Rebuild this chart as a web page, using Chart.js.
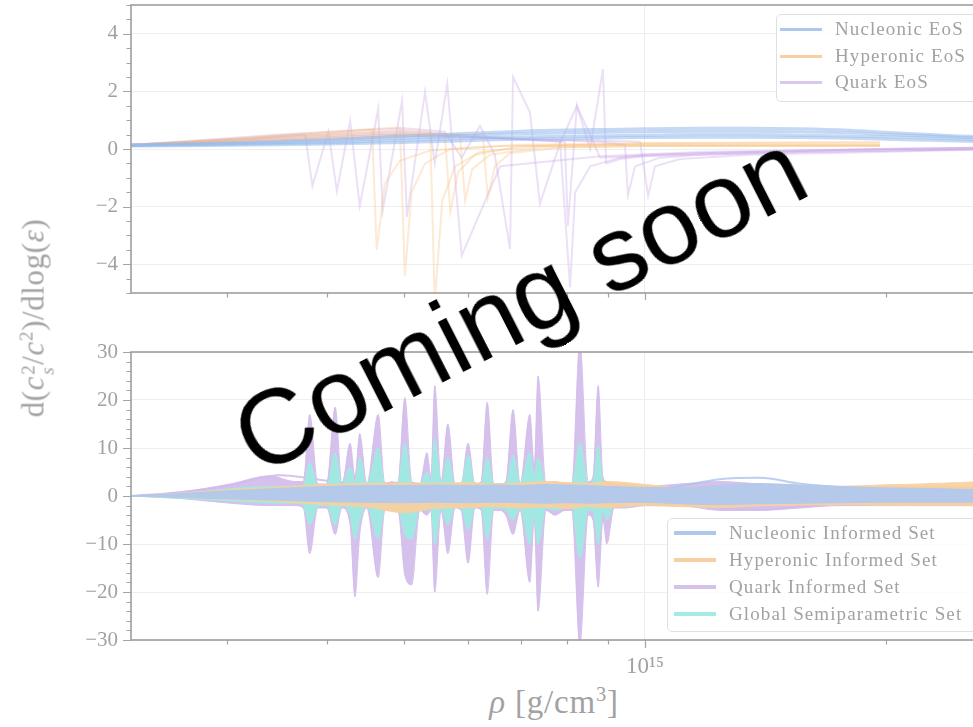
<!DOCTYPE html>
<html>
<head>
<meta charset="utf-8">
<script src="https://cdn.jsdelivr.net/npm/chart.js@4.4.1/dist/chart.umd.min.js"></script>
<style>
  html, body { margin:0; padding:0; background:#fff; overflow:hidden; }
  #wrap { position:relative; width:973px; height:727px; overflow:hidden; background:#fff; }
  canvas { position:absolute; left:0; }
  #cTop { top:-10px; }
  #cBot { top:332px; }
  .serif { font-family:"Liberation Serif","Times New Roman",serif; color:#a2a2a2; }
  .lgbox { position:absolute; border:1px solid #e0e0e0; border-radius:5px; background:rgba(255,255,255,0.8); }
  .lgsw { position:absolute; width:42px; }
  .lgtx { position:absolute; font-size:19px; letter-spacing:1.1px; line-height:1; white-space:nowrap; transform:translateY(-52%); }
  #ylab { position:absolute; left:37px; top:318px; transform:translate(-50%,-50%) rotate(-90deg);
          font-size:31px; letter-spacing:0.6px; line-height:1; white-space:nowrap; }
  #ylab .ms { display:inline-flex; flex-direction:column; font-size:0.62em; line-height:0.95; vertical-align:0.45em; margin-left:1px; }
  #ylab sup, #xlab sup { font-size:0.62em; vertical-align:0.55em; line-height:0; }
  #xlab { position:absolute; left:554px; top:702px; transform:translate(-50%,-50%);
          font-size:33px; letter-spacing:0.8px; line-height:1; white-space:nowrap; }
  #soon { position:absolute; left:519px; top:302px; transform:translate(-50%,-50%) rotate(-27deg);
          font-family:"Liberation Sans",Arial,sans-serif; font-size:106px; line-height:1; color:#000;
          white-space:nowrap; z-index:10; }
</style>
</head>
<body>
<div id="wrap">
  <canvas id="cTop" width="1010" height="310"></canvas>
  <canvas id="cBot" width="1010" height="348"></canvas>
  <div id="ylab" class="serif">d(<i>c</i><span class="ms"><span>2</span><span><i>s</i></span></span>/<i>c</i><sup>2</sup>)/dlog(<i>ε</i>)</div>
  <div id="xlab" class="serif"><i>ρ</i> [g/cm<sup>3</sup>]</div>
  <div id="soon">Coming soon</div>
</div>
<script>
// ---------------- DATA (densities in units of 1e14 g/cm^3) ----------------
const topSeriesNames = ['Nucleonic EoS', 'Hyperonic EoS', 'Quark EoS'];
const bottomSeriesNames = ['Nucleonic Informed Set', 'Hyperonic Informed Set', 'Quark Informed Set', 'Global Semiparametric Set'];

const xMajorTicks = [1e15];
const xTickLabelText = ['10\u00B9\u2075'];
const xMinorTicks = [3e14, 4e14, 5e14, 6e14, 7e14, 8e14, 9e14, 2e15];
const topYTicks = [-4, -2, 0, 2, 4];
const bottomYTicks = [-30, -20, -10, 0, 10, 20, 30];

// top panel: nucleonic EoS curves
const rhoTop = [2.28, 2.62, 3.03, 3.50, 4.00, 4.47, 5.00, 5.54, 6.00, 6.49, 7.00, 8.00, 9.00, 10.0, 11.7, 13.5, 15.6, 18.0, 20.0, 22.7, 25.0, 27.8];
const nucA = [0.15, 0.18, 0.22, 0.27, 0.32, 0.38, 0.45, 0.50, 0.55, 0.58, 0.62, 0.66, 0.68, 0.70, 0.72, 0.72, 0.70, 0.65, 0.58, 0.50, 0.45, 0.40];
const nucB = [0.14, 0.16, 0.19, 0.23, 0.28, 0.33, 0.38, 0.42, 0.46, 0.50, 0.53, 0.56, 0.58, 0.60, 0.62, 0.62, 0.60, 0.56, 0.50, 0.45, 0.40, 0.36];
const nucC = [0.12, 0.14, 0.16, 0.19, 0.22, 0.26, 0.30, 0.34, 0.37, 0.40, 0.42, 0.44, 0.46, 0.48, 0.50, 0.50, 0.48, 0.45, 0.42, 0.38, 0.34, 0.30];
const nucD = [0.10, 0.11, 0.13, 0.15, 0.17, 0.20, 0.23, 0.26, 0.29, 0.32, 0.34, 0.36, 0.38, 0.40, 0.41, 0.41, 0.40, 0.37, 0.34, 0.30, 0.27, 0.24];

// top panel: hyperonic EoS curves
const hyp1Rho = [2.28, 3.03, 4.00, 4.56, 4.62, 4.73, 4.94, 5.39, 6.59, 10.0, 19.67];
const hyp1    = [0.15, 0.32, 0.55, 0.68, -3.5, -1.2, -0.4, -0.05, 0.10, 0.15, 0.15];
const hyp2Rho = [2.28, 3.03, 4.00, 4.94, 5.01, 5.11, 5.31, 5.71, 6.98, 10.0, 19.67];
const hyp2    = [0.15, 0.35, 0.60, 0.75, -4.4, -1.5, -0.5, 0.0, 0.15, 0.20, 0.20];
const hyp3Rho = [2.28, 3.03, 4.00, 5.00, 5.39, 5.46, 5.58, 5.79, 6.22, 7.39, 10.0, 19.67];
const hyp3    = [0.15, 0.30, 0.50, 0.65, 0.60, -5.3, -1.8, -0.6, -0.1, 0.10, 0.20, 0.25];
const hyp4Rho = [2.28, 3.03, 4.00, 5.00, 5.62, 5.71, 5.84, 6.13, 6.98, 10.0, 19.67];
const hyp4    = [0.15, 0.28, 0.45, 0.55, 0.55, -2.2, -0.8, -0.2, 0.10, 0.15, 0.15];
const hyp5Rho = [2.28, 3.03, 4.00, 5.00, 5.87, 5.96, 6.08, 6.40, 7.39, 10.0, 19.67];
const hyp5    = [0.12, 0.25, 0.40, 0.50, 0.50, -1.8, -0.7, -0.2, 0.05, 0.10, 0.10];
const hyp6Rho = [2.28, 3.03, 4.00, 5.00, 6.27, 6.36, 6.49, 6.78, 7.83, 10.0, 19.67];
const hyp6    = [0.12, 0.22, 0.35, 0.45, 0.50, -1.7, -0.6, -0.15, 0.05, 0.10, 0.10];

// top panel: quark EoS curves
const qrk1Rho = [2.28, 3.21, 3.76, 3.84, 4.02, 4.12, 4.28, 4.40, 4.64, 4.70, 4.97, 5.04, 5.31, 5.46, 5.66, 5.90, 6.59, 8.79, 11.72, 19.67, 27.78];
const qrk1    = [0.15, 0.35, 0.50, -1.28, 0.60, -1.46, 0.97, -1.98, 1.39, -2.15, 1.67, -2.36, 1.98, -0.50, 2.26, -3.70, -0.60, -0.25, -0.10, 0.00, 0.05];
const qrk2Rho = [2.28, 3.50, 5.00, 5.62, 5.90, 6.22, 6.49, 6.78, 6.84, 7.18, 7.39, 7.83, 8.22, 8.79, 11.72, 19.67, 27.78];
const qrk2    = [0.14, 0.50, 0.72, 0.60, -0.30, 0.80, -0.20, -3.47, 2.50, 1.28, -1.90, 0.20, 1.50, -0.30, -0.15, 0.00, 0.05];
const qrk3Rho = [2.28, 3.50, 5.00, 7.39, 7.94, 8.01, 8.22, 8.54, 8.86, 8.94, 9.31, 10.0, 15.62, 27.78];
const qrk3    = [0.13, 0.45, 0.62, 0.30, 0.25, -2.67, 1.50, 0.00, 2.78, -0.50, -0.35, -0.25, -0.10, 0.00];
const qrk4Rho = [2.28, 3.50, 5.00, 7.83, 8.06, 8.18, 8.54, 9.31, 10.0, 15.62, 27.78];
const qrk4    = [0.12, 0.40, 0.55, 0.25, -4.80, -1.50, -0.60, -0.30, -0.20, -0.05, 0.05];
const qrk5Rho = [2.28, 3.50, 5.00, 8.79, 9.44, 9.52, 9.72, 10.44, 11.72, 15.62, 27.78];
const qrk5    = [0.12, 0.35, 0.50, 0.25, 0.15, -1.60, -0.60, -0.30, -0.20, -0.10, 0.00];
const qrk6Rho = [2.28, 3.50, 5.00, 9.86, 10.09, 10.29, 11.06, 13.53, 19.67, 27.78];
const qrk6    = [0.10, 0.30, 0.45, 0.25, -1.63, -0.60, -0.35, -0.20, -0.10, 0.00];

// bottom panel: smooth bands (upper / lower envelopes) and single curves
const rhoBand  = [2.28, 2.62, 3.03, 3.50, 4.00, 4.50, 5.00, 5.50, 6.00, 6.50, 7.00, 7.50, 8.00, 8.50, 9.00, 10.0, 11.0, 12.4, 13.9, 15.6, 17.5, 19.7, 22.1, 24.8, 27.8];
const nucUpper = [0, 0.5, 1.1, 1.6, 2.0, 2.2, 2.2, 2.3, 2.2, 2.3, 2.2, 2.4, 2.3, 2.2, 2.0, 1.8, 1.7, 2.2, 2.6, 2.3, 2.0, 1.7, 1.6, 1.4, 1.3];
const nucLower = [0, -0.3, -0.6, -0.9, -1.2, -1.3, -1.4, -1.3, -1.4, -1.3, -1.4, -1.5, -1.4, -1.5, -1.4, -1.3, -1.6, -1.8, -1.6, -1.5, -1.4, -1.3, -1.3, -1.3, -1.2];
const hypUpper = [0, 0.6, 1.3, 1.9, 2.4, 2.6, 2.7, 2.6, 2.8, 2.5, 2.7, 3.0, 2.8, 2.6, 3.0, 2.4, 1.8, 2.0, 2.4, 2.2, 2.0, 2.3, 2.5, 2.8, 3.2];
const hypLower = [0, -0.3, -0.7, -1.2, -1.8, -2.3, -3.5, -2.5, -2.4, -2.2, -2.5, -2.3, -2.6, -2.2, -2.4, -2.0, -2.2, -2.4, -2.0, -1.9, -1.8, -1.9, -2.0, -2.0, -2.1];
const nucLine  = [0, 0.3, 0.8, 1.2, 1.6, 1.8, 1.5, 1.9, 1.6, 2.0, 1.7, 1.8, 1.5, 1.9, 1.7, 1.2, 2.0, 3.5, 3.8, 2.6, 1.8, 1.2, 1.0, 0.9, 0.8];
const qrkLine  = [0, 0.8, 2.2, 4.3, 3.2, 2.5, 2.8, 2.2, 2.6, 2.4, 2.2, 2.8, 2.5, 2.6, 1.8, 0.8, -1.0, -2.5, -2.8, -2.2, -1.5, -0.8, 0.2, 0.8, 1.5];

// bottom panel: oscillating sets (upper / lower envelopes)
const rhoOsc = [2.28, 2.62, 3.03, 3.40, 3.65, 3.74, 3.81, 3.90, 4.00, 4.10,
                4.18, 4.28, 4.34, 4.40, 4.49, 4.64, 4.73, 4.83, 4.91, 5.01,
                5.11, 5.23, 5.34, 5.40, 5.46, 5.56, 5.67, 5.79, 5.89, 6.01,
                6.13, 6.24, 6.35, 6.47, 6.59, 6.70, 6.84, 6.98, 7.18, 7.27,
                7.35, 7.52, 7.72, 7.94, 8.10, 8.29, 8.49, 8.61, 8.74, 8.86,
                8.96, 9.15, 9.44, 10.0, 11.06, 12.41, 13.92, 15.62, 17.53, 19.67,
                22.07, 24.76, 27.78];
const qrkUpper = [0, 0.8, 2.5, 4.2, 3.0, 3.0, 17, 2.5, 2.5, 18.5,
                  2.5, 11, 4, 13, 2.5, 17, 2.5, 3, 2.5, 20.5,
                  3, 2.5, 9, 4, 23, 3, 15, 2.5, 2.5, 11,
                  2.5, 3, 19.5, 2.5, 2.5, 3, 18, 2.5, 17, 6,
                  25, 2.5, 3, 2.5, 2.5, 32, 3, 4, 23, 4,
                  3, 2.5, 2.5, 2, 2.5, 3, 2.5, 2, 2, 2,
                  2, 2, 2];
const qrkLower = [0, -0.5, -1.5, -2, -2, -2.5, -12, -2.5, -2.5, -8,
                  -2.5, -6, -21, -8, -2.5, -17, -3, -3, -3, -16.5,
                  -18.5, -3, -4, -3, -20, -3, -12, -2.5, -3, -14,
                  -2.5, -3, -20.5, -3, -3, -4, -8, -3, -18, -5,
                  -24, -3, -4, -3, -3, -31, -4, -5, -19, -5,
                  -10, -2.5, -2.5, -2, -2, -3, -3, -2.5, -2, -2,
                  -2, -2, -2];
const gloUpper = [0, 0.5, 1.5, 2, 2, 2.2, 7, 2.2, 2.2, 9,
                  2.2, 6, 3, 8, 2.2, 10, 2.5, 2.5, 2.5, 11,
                  2.5, 2.5, 5, 3, 12, 2.5, 8, 2.2, 2.5, 8.5,
                  2.2, 2.5, 8, 2.5, 2.5, 2.5, 8.5, 2.5, 9, 4,
                  8, 2.5, 2.5, 2.5, 2.5, 11, 2.5, 3, 10.5, 3,
                  2.5, 2, 2, 1.5, 1.5, 2, 1.5, 1.5, 1.5, 1.5,
                  1.5, 1.5, 1.5];
const gloLower = [0, -0.5, -1, -1.5, -1.5, -2, -6, -2.2, -2, -6,
                  -2, -4, -9, -5, -2, -9, -2.5, -2.5, -2.5, -8,
                  -9, -2.5, -3, -2.5, -10, -2.5, -6, -2.2, -2.5, -7,
                  -2.2, -2.5, -9, -2.5, -2.5, -3, -5, -2.5, -10, -4,
                  -10, -2.5, -3, -2.5, -2.5, -13, -3, -3, -10, -3,
                  -5, -2, -2, -1.5, -1.5, -1.5, -1.5, -1.5, -1.5, -1.5,
                  -1.5, -1.5, -1.5];

// ---------------- RENDERING ----------------
const X_MIN = 2.278e14, X_MAX = 2.859e15;
const serifFont = "'Liberation Serif','Times New Roman',serif";
const labelColor = '#a2a2a2';
const pts = (rho, vals) => rho.map((r, i) => ({ x: r * 1e14, y: vals[i] }));

const C = {
  blueLine: 'rgba(150,185,235,0.55)',
  orangeLine: 'rgba(247,190,120,0.32)',
  purpleLine: 'rgba(195,160,230,0.32)',
  blueFill: 'rgba(178,201,236,0.96)',
  orangeFill: 'rgba(248,208,158,0.92)',
  cyanFill: 'rgba(158,236,226,0.92)',
  purpleFill: 'rgba(211,188,236,0.92)',
  blueThin: 'rgba(170,196,236,0.8)',
  purpleThin: 'rgba(208,184,236,0.85)'
};

function lineDs(rho, vals, color, width, smooth) {
  return { data: pts(rho, vals), borderColor: color, borderWidth: width, pointRadius: 0,
           fill: false, tension: 0, cubicInterpolationMode: smooth ? 'monotone' : 'default', clip: 0 };
}
function bandDs(rho, vals, color, fill) {
  return { data: pts(rho, vals), borderColor: color, backgroundColor: color, borderWidth: 1,
           pointRadius: 0, fill: fill, cubicInterpolationMode: 'monotone', clip: 0 };
}

function minorList(lo, hi, step, majors) {
  const out = [];
  const n = Math.round((hi - lo) / step);
  for (let i = 0; i <= n; i++) {
    const v = +(lo + i * step).toFixed(3);
    if (!majors.includes(v)) out.push(v);
  }
  return out;
}

function framePlugin(yMajor, yMinor) {
  return {
    id: 'frameTicks',
    afterDraw(chart) {
      const { ctx, chartArea: a } = chart;
      const xs = chart.scales.x, ys = chart.scales.y;
      ctx.save();
      ctx.strokeStyle = '#a4a4a4';
      ctx.lineWidth = 1.2;
      ctx.beginPath();
      const xMark = (v, len) => {
        const p = Math.round(xs.getPixelForValue(v)) + 0.5;
        if (p < a.left || p > a.right) return;
        ctx.moveTo(p, a.bottom); ctx.lineTo(p, a.bottom + len);
      };
      const yMark = (v, len) => {
        const p = Math.round(ys.getPixelForValue(v)) + 0.5;
        ctx.moveTo(a.left, p); ctx.lineTo(a.left - len, p);
      };
      xMinorTicks.forEach(v => xMark(v, 4.5));
      xMajorTicks.forEach(v => xMark(v, 8));
      yMinor.forEach(v => yMark(v, 4.5));
      yMajor.forEach(v => yMark(v, 8));
      ctx.stroke();
      ctx.strokeStyle = '#9e9e9e';
      ctx.lineWidth = 1.6;
      ctx.strokeRect(a.left, a.top, a.right - a.left, a.bottom - a.top);
      ctx.restore();
    }
  };
}

function xScale(showLabels) {
  return {
    type: 'logarithmic', min: X_MIN, max: X_MAX,
    afterBuildTicks: s => { s.ticks = xMajorTicks.map(v => ({ value: v })); },
    afterFit: s => { s.height = showLabels ? 40 : 7; s.paddingLeft = 0; s.paddingRight = 0; },
    ticks: { display: showLabels, autoSkip: false, maxRotation: 0, minRotation: 0, padding: 13,
             color: labelColor, font: { family: serifFont, size: 23 },
             callback: (v, i) => xTickLabelText[i] },
    grid: { color: '#ececec', lineWidth: 1, drawTicks: false },
    border: { display: false }
  };
}
function yScale(min, max, ticks) {
  return {
    min: min, max: max,
    afterBuildTicks: s => { s.ticks = ticks.map(v => ({ value: v })); },
    afterFit: s => { s.width = 131; s.paddingTop = 0; s.paddingBottom = 0; },
    ticks: { padding: 13, color: labelColor, font: { family: serifFont, size: 21 },
             callback: v => (v < 0 ? '\u2212' + Math.abs(v) : String(v)) },
    grid: { color: '#efefef', lineWidth: 1, drawTicks: false },
    border: { display: false }
  };
}
const baseOpts = {
  responsive: false, animation: false, devicePixelRatio: 1, events: [],
  plugins: { legend: { display: false }, tooltip: { enabled: false } }
};

// top chart
new Chart(document.getElementById('cTop'), {
  type: 'line',
  data: { datasets: [
    lineDs(rhoTop, nucA, C.blueLine, 3, true),
    lineDs(rhoTop, nucB, C.blueLine, 3, true),
    lineDs(rhoTop, nucC, C.blueLine, 3, true),
    lineDs(rhoTop, nucD, C.blueLine, 3, true),
    lineDs(hyp1Rho, hyp1, C.orangeLine, 2),
    lineDs(hyp2Rho, hyp2, C.orangeLine, 2),
    lineDs(hyp3Rho, hyp3, C.orangeLine, 2),
    lineDs(hyp4Rho, hyp4, C.orangeLine, 2),
    lineDs(hyp5Rho, hyp5, C.orangeLine, 2),
    lineDs(hyp6Rho, hyp6, C.orangeLine, 2),
    lineDs(qrk1Rho, qrk1, C.purpleLine, 2),
    lineDs(qrk2Rho, qrk2, C.purpleLine, 2),
    lineDs(qrk3Rho, qrk3, C.purpleLine, 2),
    lineDs(qrk4Rho, qrk4, C.purpleLine, 2),
    lineDs(qrk5Rho, qrk5, C.purpleLine, 2),
    lineDs(qrk6Rho, qrk6, C.purpleLine, 2)
  ] },
  options: Object.assign({}, baseOpts, {
    layout: { padding: { top: 15, left: 0, right: 0, bottom: 0 } },
    scales: { x: xScale(false), y: yScale(-5, 5, topYTicks) }
  }),
  plugins: [framePlugin(topYTicks, minorList(-5, 5, 0.5, topYTicks))]
});

// bottom chart
new Chart(document.getElementById('cBot'), {
  type: 'line',
  data: { datasets: [
    bandDs(rhoBand, nucUpper, C.blueFill, false),
    bandDs(rhoBand, nucLower, C.blueFill, '-1'),
    lineDs(rhoBand, nucLine, C.blueThin, 2, true),
    bandDs(rhoBand, hypUpper, C.orangeFill, false),
    bandDs(rhoBand, hypLower, C.orangeFill, '-1'),
    bandDs(rhoOsc, gloUpper, C.cyanFill, false),
    bandDs(rhoOsc, gloLower, C.cyanFill, '-1'),
    bandDs(rhoOsc, qrkUpper, C.purpleFill, false),
    bandDs(rhoOsc, qrkLower, C.purpleFill, '-1'),
    lineDs(rhoBand, qrkLine, C.purpleThin, 2, true)
  ] },
  options: Object.assign({}, baseOpts, {
    layout: { padding: { top: 20, left: 0, right: 0, bottom: 0 } },
    scales: { x: xScale(true), y: yScale(-30, 30, bottomYTicks) }
  }),
  plugins: [framePlugin(bottomYTicks, minorList(-30, 30, 2, bottomYTicks))]
});

// legends (HTML, real text)
function buildLegend(names, colors, box, rowYs, swX, txX, swH) {
  const wrap = document.getElementById('wrap');
  const b = document.createElement('div');
  b.className = 'lgbox';
  Object.assign(b.style, { left: box[0] + 'px', top: box[1] + 'px', width: box[2] + 'px', height: box[3] + 'px' });
  wrap.appendChild(b);
  names.forEach((n, i) => {
    const sw = document.createElement('div');
    sw.className = 'lgsw';
    Object.assign(sw.style, { left: swX + 'px', top: (rowYs[i] - swH / 2) + 'px', height: swH + 'px', background: colors[i] });
    wrap.appendChild(sw);
    const t = document.createElement('div');
    t.className = 'lgtx serif';
    t.textContent = n;
    Object.assign(t.style, { left: txX + 'px', top: rowYs[i] + 'px' });
    wrap.appendChild(t);
  });
}
buildLegend(topSeriesNames, ['#aec7ec', '#f8d0a0', '#dac7ee'],
            [776, 14, 260, 86], [29, 56, 82], 780, 835, 3);
buildLegend(bottomSeriesNames, ['#b0c7ec', '#f7cfa0', '#d5c1ea', '#a4ece3'],
            [667, 518, 340, 112], [533, 560, 587, 614], 674, 729, 4);
</script>
</body>
</html>
